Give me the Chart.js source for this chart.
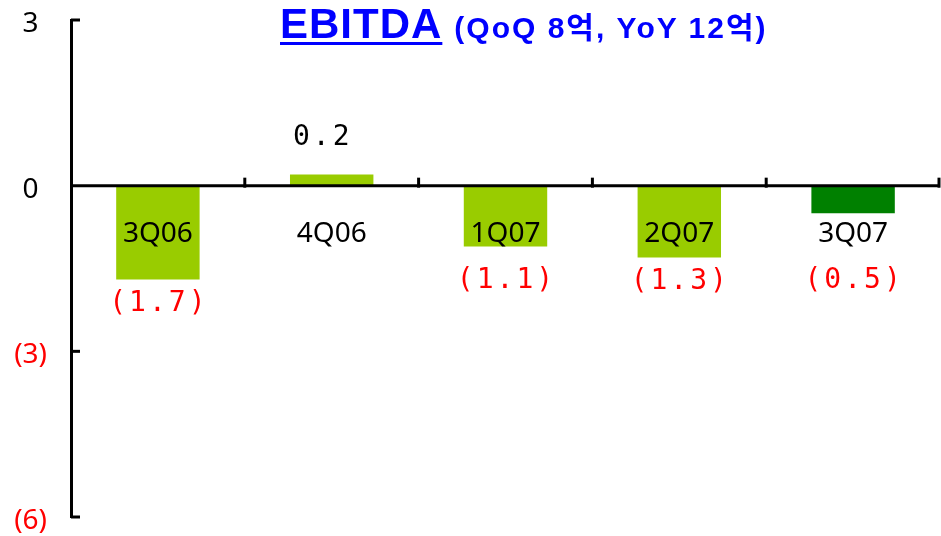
<!DOCTYPE html>
<html>
<head>
<meta charset="utf-8">
<script src="https://cdn.jsdelivr.net/npm/chart.js@4.4.1/dist/chart.umd.min.js"></script>
<style>
  body { margin: 0; background: #fff; }
  #wrap { position: relative; width: 941px; height: 536px; }
  #title {
    position: absolute; left: 280px; top: 0px; color: #0000ff;
    font-family: "Liberation Sans", "Noto Sans CJK KR", sans-serif; font-weight: bold;
    white-space: nowrap;
  }
  #title .main { font-size: 42px; text-decoration: underline; text-decoration-thickness: 3px; text-underline-offset: 4px; letter-spacing: 1px; }
  #title .sub { font-size: 30px; letter-spacing: 2px; margin-left: 12px; }
</style>
</head>
<body>
<div id="wrap">
  <canvas id="ebitdaChart" width="941" height="536"></canvas>
  <div id="title"><span class="main">EBITDA</span><span class="sub">(QoQ 8억, YoY 12억)</span></div>
</div>
<script>
// data (억 units)
const quarters = ["3Q06", "4Q06", "1Q07", "2Q07", "3Q07"];
const ebitda = [-1.7, 0.2, -1.1, -1.3, -0.5];
const valueLabels = ["(1.7)", "0.2", "(1.1)", "(1.3)", "(0.5)"];
const barColors = ["#99cc00", "#99cc00", "#99cc00", "#99cc00", "#008000"];
const yTicks = [3, 0, -3, -6];

const ctx = document.getElementById("ebitdaChart");

// draws zero line, inner ticks, category names and value labels
const annotate = {
  id: "annotate",
  afterDatasetsDraw(chart) {
    const c = chart.ctx;
    const x = chart.scales.x;
    const y = chart.scales.y;
    const area = chart.chartArea;
    const zeroY = y.getPixelForValue(0);
    c.save();
    c.strokeStyle = "#000";
    c.lineWidth = 3;
    // zero line
    c.beginPath();
    c.moveTo(area.left, zeroY);
    c.lineTo(area.right, zeroY);
    c.stroke();
    // y ticks pointing into plot
    yTicks.forEach((v) => {
      if (v === 0) return;
      const py = y.getPixelForValue(v);
      c.beginPath();
      c.moveTo(area.left, py);
      c.lineTo(area.left + 9, py);
      c.stroke();
    });
    // category boundary ticks on zero line
    for (let i = 1; i <= quarters.length; i++) {
      const bx = i < quarters.length
        ? (x.getPixelForValue(i - 1) + x.getPixelForValue(i)) / 2
        : area.right - 1;
      c.beginPath();
      c.moveTo(bx, zeroY - 8);
      c.lineTo(bx, zeroY + 2);
      c.stroke();
    }
    // category labels
    c.fillStyle = "#000";
    c.font = "28px 'Noto Sans'";
    c.textAlign = "center";
    c.textBaseline = "middle";
    quarters.forEach((q, i) => {
      c.fillText(q, x.getPixelForValue(i), zeroY + 48);
    });
    // value labels
    c.font = "28px 'DejaVu Sans Mono'";
    c.letterSpacing = "3px";
    ebitda.forEach((v, i) => {
      const px = x.getPixelForValue(i) + 1;
      const vy = y.getPixelForValue(v);
      if (v >= 0) {
        c.fillStyle = "#000";
        c.fillText(valueLabels[i], px - 10, vy - 37);
      } else {
        c.fillStyle = "#ff0000";
        c.fillText(valueLabels[i], px, Math.max(vy + 24, zeroY + 95));
      }
    });
    c.restore();
  },
};

new Chart(ctx, {
  type: "bar",
  data: {
    labels: quarters,
    datasets: [
      {
        data: ebitda,
        backgroundColor: barColors,
        borderWidth: 0,
        categoryPercentage: 1,
        barPercentage: 0.48,
      },
    ],
  },
  options: {
    responsive: false,
    animation: false,
    devicePixelRatio: 1,
    layout: {
      padding: { top: 20, bottom: 19, right: 1, left: 0 },
    },
    scales: {
      x: {
        display: false,
      },
      y: {
        min: -6,
        max: 3,
        afterFit: (scale) => {
          scale.width = 71;
          scale.paddingTop = 0;
          scale.paddingBottom = 0;
        },
        afterBuildTicks: (scale) => {
          scale.ticks = yTicks.map((v) => ({ value: v }));
        },
        ticks: {
          crossAlign: "center",
          padding: 24,
          labelOffset: 4,
          color: (c) => (c.tick.value < 0 ? "#ff0000" : "#000"),
          font: { family: "Noto Sans", size: 28 },
          callback: (v) => (v < 0 ? "(" + -v + ")" : v),
        },
        grid: { display: false, drawTicks: false },
        border: { display: true, color: "#000", width: 3 },
      },
    },
    plugins: {
      legend: { display: false },
      tooltip: { enabled: false },
      title: { display: false },
    },
  },
  plugins: [annotate],
});
</script>
</body>
</html>
